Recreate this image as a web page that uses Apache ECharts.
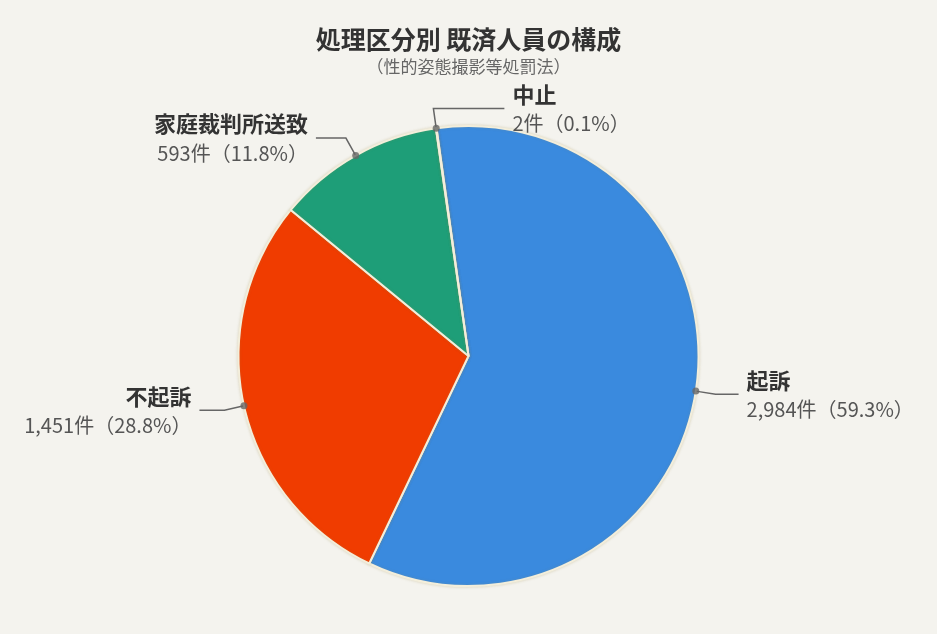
<!DOCTYPE html>
<html>
<head>
<meta charset="utf-8">
<script src="https://cdn.jsdelivr.net/npm/echarts@6/dist/echarts.min.js"></script>
<style>
  html, body { margin: 0; padding: 0; background: #f4f3ee; }
  #chart { width: 937px; height: 634px; }
</style>
</head>
<body>
<div id="chart"></div>
<script>
const titleText = '処理区分別 既済人員の構成';
const subtitleText = '（性的姿態撮影等処罰法）';
const categories = ['起訴', '不起訴', '家庭裁判所送致', '中止'];
const counts = [2984, 1451, 593, 2];
const percents = ['59.3', '28.8', '11.8', '0.1'];
const colors = ['#3a8ade', '#f03c00', '#1e9e78', '#f2c230'];

const FONT = '"Noto Sans CJK JP", "Noto Sans", sans-serif';
const total = counts.reduce((a, b) => a + b, 0);
const START = 98;
const CX = 937 / 2, CY = 356, R = 230;
const LEN1 = 20;
const LEN2 = [23, 25, 30, 71];
const SIDE = [1, -1, -1, 1];

const pieData = categories.map((c, i) => ({
  name: c,
  value: counts[i],
  itemStyle: { color: colors[i] }
}));

// mid points of each slice (for the label-line anchor dots)
let acc = 0;
const dotData = counts.map(v => { const m = acc + v / 2; acc += v; return [1, m]; });

const chart = echarts.init(document.getElementById('chart'));
chart.setOption({
  backgroundColor: '#f4f3ee',
  textStyle: { fontFamily: FONT },
  title: {
    text: titleText,
    subtext: subtitleText,
    left: 'center',
    top: 22,
    itemGap: 6,
    textStyle: { fontSize: 25, fontWeight: 'bold', color: '#333', fontFamily: FONT },
    subtextStyle: { fontSize: 17, color: '#666', fontFamily: FONT }
  },
  polar: { center: [CX, CY], radius: R },
  angleAxis: {
    type: 'value', min: 0, max: total, startAngle: START, clockwise: true,
    show: false, splitLine: { show: false }, axisLine: { show: false }
  },
  radiusAxis: {
    type: 'value', min: 0, max: 1, show: false,
    splitLine: { show: false }, axisLine: { show: false }
  },
  series: [
    {
      type: 'pie',
      center: [CX, CY],
      radius: R,
      startAngle: START,
      clockwise: true,
      data: pieData,
      itemStyle: {
        borderColor: '#f3eedb',
        borderWidth: 2,
        shadowBlur: 3,
        shadowColor: 'rgba(160,140,70,0.25)'
      },
      label: {
        show: true,
        position: 'outside',
        fontFamily: FONT,
        formatter: p => '{n|' + p.name + '}\n{v|' + counts[p.dataIndex].toLocaleString('en-US') + '件（' + percents[p.dataIndex] + '%）}',
        rich: {
          n: { fontSize: 22, fontWeight: 'bold', color: '#333', lineHeight: 30, fontFamily: FONT },
          v: { fontSize: 20, color: '#555', lineHeight: 28, fontFamily: FONT }
        },
        distanceToLabelLine: 8
      },
      labelLine: {
        show: true,
        length: LEN1,
        length2: 25,
        smooth: false,
        lineStyle: { color: '#666', width: 1.5 }
      },
      labelLayout: function (params) {
        const i = params.dataIndex;
        if (params.seriesIndex !== 0 || !params.labelLinePoints) return {};
        const p0 = params.labelLinePoints[0];
        let dx = p0[0] - CX, dy = p0[1] - CY;
        const d = Math.sqrt(dx * dx + dy * dy) || 1;
        dx /= d; dy /= d;
        const p1 = [p0[0] + dx * LEN1, p0[1] + dy * LEN1];
        const s = SIDE[i];
        const p2 = [p1[0] + s * LEN2[i], p1[1]];
        return {
          x: p2[0] + s * 8,
          y: p2[1],
          align: s > 0 ? 'left' : 'right',
          verticalAlign: 'middle',
          labelLinePoints: [p0, p1, p2]
        };
      },
      emphasis: { disabled: true },
      animation: false
    },
    {
      type: 'scatter',
      coordinateSystem: 'polar',
      data: dotData,
      symbol: 'circle',
      symbolSize: 7,
      itemStyle: { color: '#666' },
      silent: true,
      z: 5,
      animation: false
    }
  ],
  animation: false
});
</script>
</body>
</html>
